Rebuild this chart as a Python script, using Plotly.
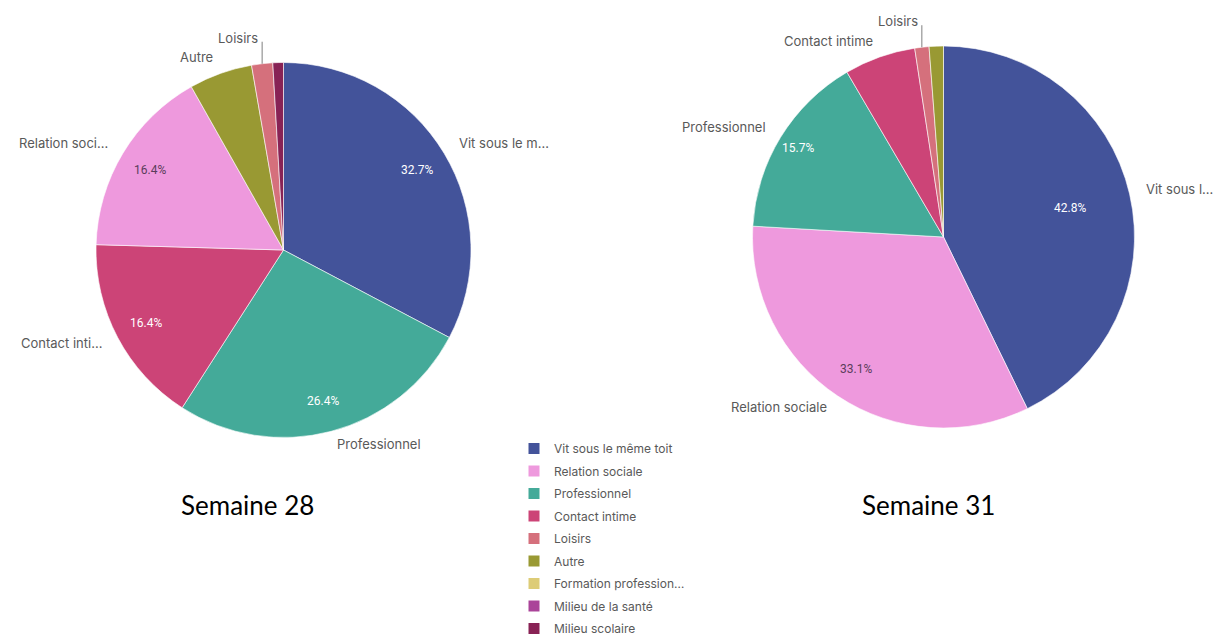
import math
import plotly.graph_objects as go

# ---------------- data ----------------
legend_categories = ["Vit sous le même toit", "Relation sociale", "Professionnel", "Contact intime",
                     "Loisirs", "Autre", "Formation professionnelle", "Milieu de la santé", "Milieu scolaire"]
legend_labels = ["Vit sous le même toit", "Relation sociale", "Professionnel", "Contact intime",
                 "Loisirs", "Autre", "Formation profession…", "Milieu de la santé", "Milieu scolaire"]
category_colors = ["#43539a", "#ee99dd", "#44aa99", "#cc4477",
                   "#d5707c", "#999933", "#ddcc77", "#aa4499", "#882255"]

s28_title = "Semaine 28"
s28_categories = ["Vit sous le même toit", "Professionnel", "Contact intime", "Relation sociale",
                  "Autre", "Loisirs", "Milieu scolaire"]
s28_values = [36, 29, 18, 18, 6, 2, 1]
s28_outside_labels = ["Vit sous le m…", "Professionnel", "Contact inti…", "Relation soci…",
                      "Autre", "Loisirs", ""]

s31_title = "Semaine 31"
s31_categories = ["Vit sous le même toit", "Relation sociale", "Professionnel", "Contact intime",
                  "Loisirs", "Autre"]
s31_values = [71, 55, 26, 10, 2, 2]
s31_outside_labels = ["Vit sous l…", "Relation sociale", "Professionnel", "Contact intime",
                      "Loisirs", ""]

# ---------------- style / layout ----------------
SCREEN_W, SCREEN_H = 1223, 637
OFF = 8  # default page body margin
W, H = SCREEN_W - OFF, SCREEN_H - OFF
color_map = dict(zip(legend_categories, category_colors))
LABEL_FONT = "Inter, Roboto, sans-serif"
LABEL_COLOR = "#595959"

charts = [
    dict(title=s28_title, cats=s28_categories, vals=s28_values, outs=s28_outside_labels,
         cx=283.5, cy=250, r=187.5, title_xy=(247, 505),
         inside_r={}, leader=["Loisirs"]),
    dict(title=s31_title, cats=s31_categories, vals=s31_values, outs=s31_outside_labels,
         cx=943.5, cy=237, r=191, title_xy=(928, 505),
         inside_r={"Vit sous le même toit": 0.68, "Professionnel": 0.89}, leader=["Loisirs"]),
]


def px(x):
    return (x - OFF) / W


def py(y):
    return 1 - (y - OFF) / H


def is_light(hexcol):
    h = hexcol.lstrip("#")
    r, g, b = (int(h[i:i + 2], 16) for i in (0, 2, 4))
    return 0.299 * r + 0.587 * g + 0.114 * b > 170


fig = go.Figure()
annotations = []
shapes = []

for ch in charts:
    cx, cy, r = ch["cx"], ch["cy"], ch["r"]
    fig.add_trace(go.Pie(
        labels=ch["cats"], values=ch["vals"], sort=False, direction="clockwise", rotation=0,
        marker=dict(colors=[color_map[c] for c in ch["cats"]], line=dict(color="white", width=0.6)),
        textinfo="none", showlegend=False, hoverinfo="label+percent",
        domain=dict(x=[px(cx - r), px(cx + r)], y=[py(cy + r), py(cy - r)]),
    ))
    total = sum(ch["vals"])
    cum = 0
    for cat, v, lab in zip(ch["cats"], ch["vals"], ch["outs"]):
        frac = v / total
        mid = (cum + frac / 2) * 2 * math.pi
        cum += frac
        sx, sy = math.sin(mid), -math.cos(mid)
        # inside percentage
        if frac >= 0.1:
            f = ch["inside_r"].get(cat, 0.83)
            col = color_map[cat]
            annotations.append(dict(
                x=px(cx + sx * r * f), y=py(cy + sy * r * f), xref="paper", yref="paper",
                text=f"{frac * 100:.1f}%", showarrow=False,
                font=dict(family="Roboto, sans-serif", size=12,
                          color="#5a3d5a" if is_light(col) else "white"),
                xanchor="center", yanchor="middle"))
        if not lab:
            continue
        if cat in ch["leader"]:
            ex, ey = cx + sx * r, cy + sy * r
            top = ey - 22
            shapes.append(dict(type="line", xref="paper", yref="paper",
                               x0=px(ex), y0=py(ey), x1=px(ex), y1=py(top),
                               line=dict(color="#7f7f7f", width=1)))
            annotations.append(dict(
                x=px(ex - 2), y=py(top - 4), xref="paper", yref="paper", text=lab,
                showarrow=False, font=dict(family=LABEL_FONT, size=13, color=LABEL_COLOR),
                xanchor="right", yanchor="middle"))
        else:
            lx, ly = cx + sx * r * 1.08, cy + sy * r * 1.08
            annotations.append(dict(
                x=px(lx), y=py(ly - 2), xref="paper", yref="paper", text=lab,
                showarrow=False, font=dict(family=LABEL_FONT, size=13, color=LABEL_COLOR),
                xanchor="left" if sx > 0 else "right", yanchor="middle"))
    tx, ty = ch["title_xy"]
    annotations.append(dict(
        x=px(tx), y=py(ty), xref="paper", yref="paper", text=ch["title"], showarrow=False,
        font=dict(family="Lato, sans-serif", size=26, color="black"),
        xanchor="center", yanchor="middle"))

# legend entries
for cat, lab, col in zip(legend_categories, legend_labels, category_colors):
    fig.add_trace(go.Scatter(
        x=[None], y=[None], mode="markers", name=lab, legendgroup=cat,
        marker=dict(symbol="square", size=11, color=col), showlegend=True, hoverinfo="skip"))

fig.update_layout(
    width=W, height=H, margin=dict(l=0, r=0, t=0, b=0, autoexpand=False),
    paper_bgcolor="white", plot_bgcolor="white",
    xaxis=dict(visible=False), yaxis=dict(visible=False),
    annotations=annotations, shapes=shapes,
    legend=dict(x=px(514), y=py(434), xanchor="left", yanchor="top",
                font=dict(family=LABEL_FONT, size=12, color=LABEL_COLOR),
                tracegroupgap=3.5, bgcolor="rgba(0,0,0,0)", itemclick=False),
)

fig.write_html("out.html")
